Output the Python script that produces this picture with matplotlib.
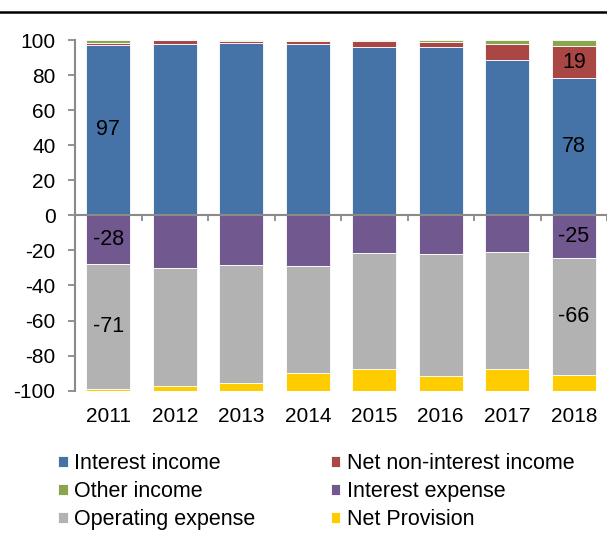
import matplotlib.pyplot as plt
import matplotlib.lines as mlines
import numpy as np

plt.rcParams['font.family'] = ['Liberation Sans', 'DejaVu Sans']
plt.rcParams['axes.unicode_minus'] = False

# Data (share of total, %)
years = ['2011', '2012', '2013', '2014', '2015', '2016', '2017', '2018']
interest_income = [97.4, 97.5, 98.1, 97.9, 95.8, 95.8, 88.8, 78.1]
net_non_interest = [1.1, 2.3, 1.5, 1.7, 3.8, 3.2, 9.1, 18.6]
other_income = [1.5, 0.2, 0.4, 0.4, 0.4, 1.0, 2.1, 3.3]
interest_expense = [-27.9, -29.8, -28.5, -28.7, -21.6, -22.2, -20.7, -24.6]
operating_expense = [-71.3, -67.5, -67.3, -61.4, -66.3, -69.5, -67.2, -66.4]
net_provision = [-0.8, -2.7, -4.2, -9.9, -12.1, -8.3, -12.1, -9.0]

# only first and last year get value labels
labelled = [0, 7]

colors = {
    'Interest income': '#4572A7',
    'Net non-interest income': '#AA4643',
    'Other income': '#89A54E',
    'Interest expense': '#71588F',
    'Operating expense': '#B2B2B2',
    'Net Provision': '#FFCC00',
}

fig = plt.figure(figsize=(6.07, 5.54), dpi=100)
ax = fig.add_axes([75 / 607, 1 - 390.7 / 554, 1 - 75 / 607, (390.7 - 40) / 554])

x = np.arange(len(years))
w = 0.66


def stack(series, names):
    bottom = np.zeros(len(years))
    conts = []
    for vals, name in zip(series, names):
        vals = np.array(vals)
        c = ax.bar(x, vals, w, bottom=bottom, color=colors[name], label=name,
                   edgecolor='white', linewidth=0.6)
        conts.append(c)
        bottom = bottom + vals
    return conts


pos = stack([interest_income, net_non_interest, other_income],
            ['Interest income', 'Net non-interest income', 'Other income'])
neg = stack([interest_expense, operating_expense, net_provision],
            ['Interest expense', 'Operating expense', 'Net Provision'])


def add_labels(cont, vals, skip_small=False):
    labs = []
    for i, v in enumerate(vals):
        if i in labelled and not (skip_small and abs(v) < 5):
            labs.append(f'{v:.0f}')
        else:
            labs.append('')
    ax.bar_label(cont, labels=labs, label_type='center', fontsize=15.5, color='black')


add_labels(pos[0], interest_income)
add_labels(pos[1], net_non_interest, skip_small=True)
add_labels(neg[0], interest_expense)
add_labels(neg[1], operating_expense)

ax.set_ylim(-100, 100)
ax.set_xlim(-0.5, 7.46)
ax.set_yticks(np.arange(-100, 101, 20))
ax.tick_params(axis='y', direction='out', length=5, width=1.3, color='#8a8a8a',
               labelsize=15, pad=9)

for s in ['top', 'right']:
    ax.spines[s].set_visible(False)
ax.spines['left'].set_color('#8a8a8a')
ax.spines['left'].set_linewidth(1.5)
ax.spines['bottom'].set_position(('data', 0))
ax.spines['bottom'].set_color('#8a8a8a')
ax.spines['bottom'].set_linewidth(1.5)
ax.set_xticks(x + 0.5)
ax.set_xticklabels([])
ax.tick_params(axis='x', direction='out', length=4, width=1.3, color='#8a8a8a')

sec = ax.secondary_xaxis('bottom')
sec.set_xticks(x)
sec.set_xticklabels(years)
sec.tick_params(length=0, labelsize=15, pad=12)
sec.spines['bottom'].set_visible(False)

# legend, row-wise order
order = ['Interest income', 'Other income', 'Operating expense',
         'Net non-interest income', 'Interest expense', 'Net Provision']
handles, labels = ax.get_legend_handles_labels()
hmap = dict(zip(labels, handles))
fig.legend([hmap[k] for k in order], order, ncol=2, loc='upper left',
           bbox_to_anchor=(58 / 607, 1 - 453 / 554), frameon=False, fontsize=15.5,
           handlelength=0.45, handleheight=0.45, handletextpad=0.3,
           labelspacing=0.33, columnspacing=3.5, borderpad=0, borderaxespad=0)

# rule at the top
fig.add_artist(mlines.Line2D([0, 1], [1 - 12 / 554] * 2, color='black', linewidth=1.8,
                             transform=fig.transFigure))

fig.savefig('out.png', dpi=100)
